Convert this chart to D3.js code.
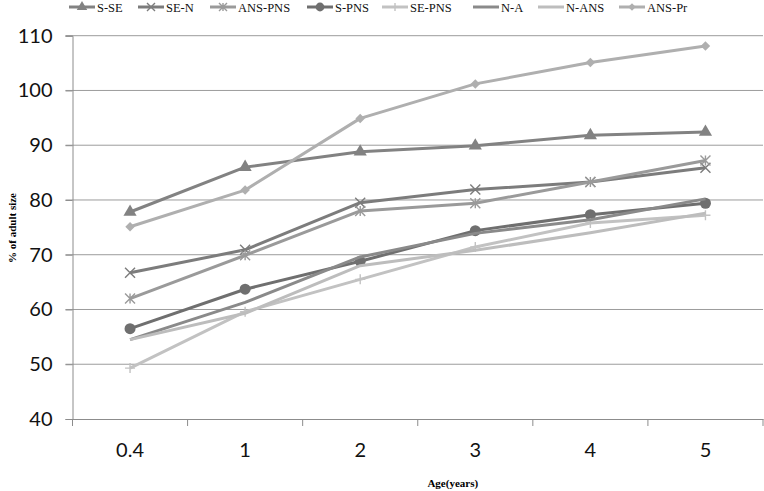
<!DOCTYPE html>
<html>
<head>
<meta charset="utf-8">
<script src="https://cdn.jsdelivr.net/npm/d3@7"></script>
<style>
  html, body { margin: 0; padding: 0; background: #fff; }
  svg { display: block; }
</style>
</head>
<body>
<svg id="chart" width="764" height="491"></svg>
<script>
const categories = ["0.4", "1", "2", "3", "4", "5"];
const seriesNames = ["S-SE", "SE-N", "ANS-PNS", "S-PNS", "SE-PNS", "N-A", "N-ANS", "ANS-Pr"];
const sSE    = [77.8, 86.0, 88.8, 89.9, 91.8, 92.4];
const seN    = [66.7, 70.9, 79.5, 81.9, 83.3, 85.9];
const ansPNS = [62.0, 69.9, 78.0, 79.4, 83.3, 87.2];
const sPNS   = [56.5, 63.7, 68.8, 74.4, 77.3, 79.4];
const sePNS  = [49.3, 59.6, 65.5, 71.4, 75.8, 77.2];
const nA     = [54.5, 61.3, 69.6, 73.9, 76.4, 80.2];
const nANS   = [54.5, 59.3, 68.0, 70.8, 74.0, 77.6];
const ansPr  = [75.1, 81.8, 94.9, 101.2, 105.1, 108.1];
const yTicks = [40, 50, 60, 70, 80, 90, 100, 110];
const xTitle = "Age(years)";
const yTitle = "% of adult size";

const seriesValues = [sSE, seN, ansPNS, sPNS, sePNS, nA, nANS, ansPr];
const colors  = ["#828282", "#7c7c7c", "#9a9a9a", "#6f6f6f", "#c2c2c2", "#8a8a8a", "#bdbdbd", "#afafaf"];
const markers = ["triangle", "x", "asterisk", "circle", "plus", "none", "none", "diamond"];

const svg = d3.select("#chart");
const pLeft = 72.5, pRight = 763, pTop = 35.7, pBottom = 419;

const x = d3.scaleBand().domain(categories).range([pLeft, pRight]);
const y = d3.scaleLinear().domain([40, 110]).range([pBottom, pTop]);

// gridlines
svg.append("g").selectAll("line").data(yTicks.filter(t => t > 40)).join("line")
  .attr("x1", pLeft - 7).attr("x2", pRight)
  .attr("y1", d => y(d)).attr("y2", d => y(d))
  .attr("stroke", "#9c9c9c").attr("stroke-width", 1);

// y axis
const yAxis = d3.axisLeft(y).tickValues(yTicks).tickSize(7).tickPadding(13).tickFormat(d3.format("d"));
const gy = svg.append("g").attr("transform", `translate(${pLeft},0)`).call(yAxis);
gy.select(".domain").attr("stroke", "#8c8c8c");
gy.selectAll(".tick line").attr("stroke", "#8c8c8c");
gy.selectAll("text").attr("font-family", "Lato, 'Open Sans', sans-serif").attr("font-size", 20).attr("fill", "#111");

// x axis
const xAxis = d3.axisBottom(x).tickSize(0).tickPadding(24);
const gx = svg.append("g").attr("transform", `translate(0,${pBottom})`).call(xAxis);
gx.select(".domain").attr("stroke", "#8c8c8c");
gx.selectAll("text").attr("font-family", "Lato, 'Open Sans', sans-serif").attr("font-size", 20).attr("fill", "#111");
// boundary tick marks between categories
const bounds = categories.map(c => x(c)).concat([x(categories[categories.length - 1]) + x.bandwidth()]);
gx.append("g").selectAll("line").data(bounds).join("line")
  .attr("x1", d => d).attr("x2", d => d).attr("y1", 0).attr("y2", 7)
  .attr("stroke", "#8c8c8c");

// axis titles
svg.append("text").attr("x", (pLeft + pRight) / 2 + 35).attr("y", 487)
  .attr("text-anchor", "middle").attr("font-family", "'Liberation Serif', 'Times New Roman', serif")
  .attr("font-weight", "bold").attr("font-size", 11).text(xTitle);
svg.append("text").attr("transform", "translate(16,228) rotate(-90)")
  .attr("text-anchor", "middle").attr("font-family", "'Liberation Serif', 'Times New Roman', serif")
  .attr("font-weight", "bold").attr("font-size", 11).text(yTitle);

function drawMarker(g, type, color, size) {
  const s = size;
  if (type === "triangle") {
    g.append("path").attr("d", d3.symbol(d3.symbolTriangle, s * s * 0.75)()).attr("fill", color);
  } else if (type === "circle") {
    g.append("circle").attr("r", s * 0.55).attr("fill", color);
  } else if (type === "diamond") {
    g.append("path").attr("d", d3.symbol(d3.symbolSquare, s * s * 0.45)()).attr("transform", "rotate(45)").attr("fill", color);
  } else if (type === "x") {
    const h = s * 0.5;
    g.append("path").attr("d", `M${-h},${-h}L${h},${h}M${-h},${h}L${h},${-h}`).attr("stroke", color).attr("stroke-width", 1.4).attr("fill", "none");
  } else if (type === "asterisk") {
    const h = s * 0.5;
    g.append("path").attr("d", `M${-h},${-h}L${h},${h}M${-h},${h}L${h},${-h}M0,${-h}L0,${h}`).attr("stroke", color).attr("stroke-width", 1.4).attr("fill", "none");
  } else if (type === "plus") {
    const h = s * 0.5;
    g.append("path").attr("d", `M${-h},0L${h},0M0,${-h}L0,${h}`).attr("stroke", color).attr("stroke-width", 1.4).attr("fill", "none");
  }
}

const line = d3.line().x((d, i) => x(categories[i]) + x.bandwidth() / 2).y(d => y(d));

seriesNames.forEach((name, si) => {
  const vals = seriesValues[si];
  const g = svg.append("g");
  g.append("path").datum(vals).attr("d", line).attr("fill", "none")
    .attr("stroke", colors[si]).attr("stroke-width", 3).attr("stroke-linejoin", "round");
  vals.forEach((v, i) => {
    const mg = g.append("g").attr("transform", `translate(${x(categories[i]) + x.bandwidth() / 2},${y(v)})`);
    drawMarker(mg, markers[si], colors[si], 10);
  });
});

// legend
const legendX = [69, 138, 210, 307, 382, 473, 538, 619];
const lg = svg.append("g");
seriesNames.forEach((name, si) => {
  const g = lg.append("g").attr("transform", `translate(${legendX[si]},7)`);
  g.append("line").attr("x1", 0).attr("x2", 26).attr("y1", 0).attr("y2", 0)
    .attr("stroke", colors[si]).attr("stroke-width", 3);
  const mg = g.append("g").attr("transform", "translate(13,0)");
  drawMarker(mg, markers[si], colors[si], 8);
  g.append("text").attr("x", 28).attr("y", 4.5)
    .attr("font-family", "'Liberation Serif', 'Times New Roman', serif").attr("font-size", 12.5)
    .attr("fill", "#111").text(name);
});
</script>
</body>
</html>
